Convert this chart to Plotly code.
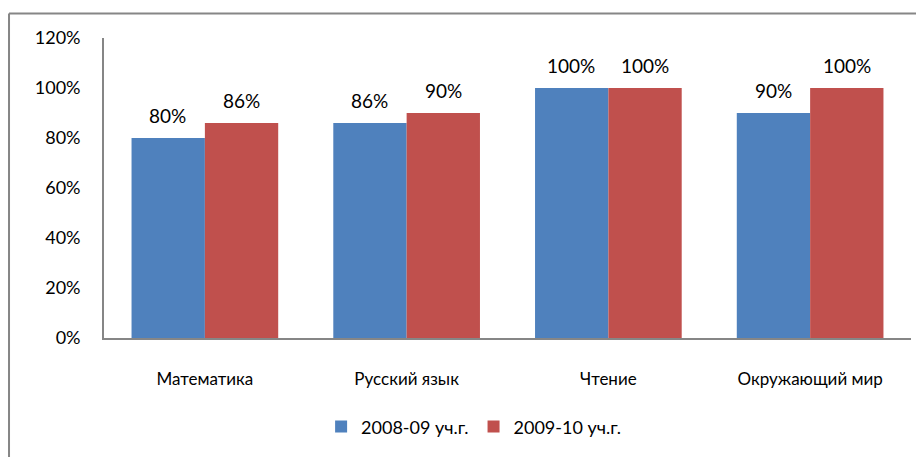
import plotly.graph_objects as go

categories = ["Математика", "Русский язык", "Чтение", "Окружающий мир"]
series_names = ["2008-09 уч.г.", "2009-10 уч.г."]
values_2008 = [80, 86, 100, 90]
values_2009 = [86, 90, 100, 100]
y_ticks = [0, 20, 40, 60, 80, 100, 120]
y_tick_labels = [f"{v}%" for v in y_ticks]

colors = ["#4F81BD", "#C0504D"]
FONT = "Lato, 'Open Sans', sans-serif"

fig = go.Figure()
for name, vals, col in zip(series_names, [values_2008, values_2009], colors):
    fig.add_trace(go.Bar(
        x=categories, y=vals, name=name,
        marker=dict(color=col, line=dict(width=0)),
    ))

annotations = []
for k, vals in enumerate([values_2008, values_2009]):
    shift = -37 if k == 0 else 37
    for c, v in zip(categories, vals):
        annotations.append(dict(
            x=c, y=v, xref="x", yref="y", text=f"{v}%", showarrow=False,
            xshift=shift, yshift=23, yanchor="middle",
            font=dict(family=FONT, size=19, color="#000000"),
        ))

frame_style = dict(color="#868686", width=2)
fig.update_layout(
    width=916, height=449,
    margin=dict(l=96, r=13, t=30, b=115),
    paper_bgcolor="white", plot_bgcolor="white",
    barmode="group", bargap=0.273, bargroupgap=0,
    font=dict(family=FONT, color="#000000"),
    showlegend=True,
    legend=dict(orientation="h", x=0.458, xanchor="center", y=-0.296, yanchor="middle",
                font=dict(family=FONT, size=18), itemwidth=30, traceorder="normal"),
    annotations=annotations,
    shapes=[
        dict(type="line", xref="paper", yref="paper", x0=-0.1177, x1=1.02, y0=1.082, y1=1.082,
             line=frame_style, layer="above"),
        dict(type="line", xref="paper", yref="paper", x0=-0.1177, x1=-0.1177, y0=-0.4, y1=1.082,
             line=frame_style, layer="above"),
    ],
)
fig.update_xaxes(
    showline=True, linecolor="#868686", linewidth=1.7, showgrid=False, ticks="",
    tickfont=dict(family=FONT, size=17), ticklabelstandoff=25,
)
fig.update_yaxes(
    range=[0, 120], tickvals=y_ticks, ticktext=y_tick_labels,
    showline=True, linecolor="#868686", linewidth=1.7, showgrid=False, zeroline=False, ticks="",
    tickfont=dict(family=FONT, size=18), ticklabelstandoff=18,
)

fig.write_html("out.html")
